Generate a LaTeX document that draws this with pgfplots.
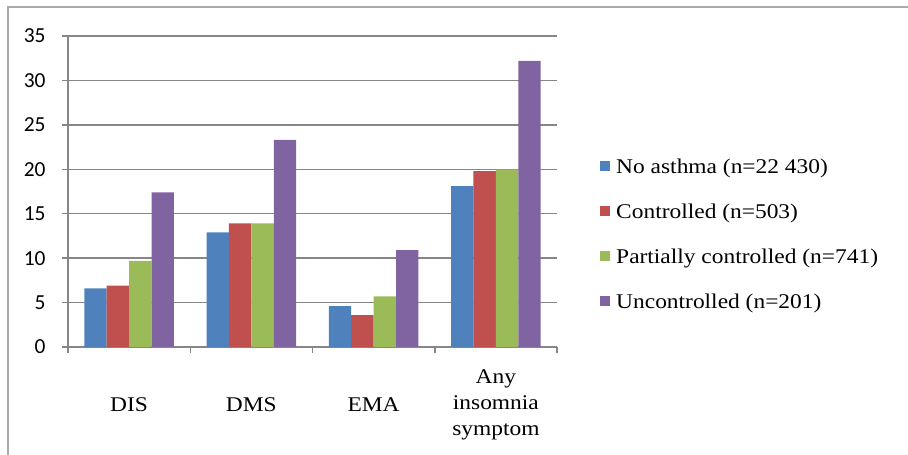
\documentclass[border=0pt]{standalone}
\usepackage{pgfplots}
\pgfplotsset{compat=1.18}
\usepackage{fontspec}
\setmainfont{Liberation Serif}[FakeStretch=1.12]
\newfontfamily\calib{Carlito}

\definecolor{gridgray}{RGB}{134,134,134}
\definecolor{framegray}{RGB}{170,170,170}
\definecolor{cblue}{RGB}{79,129,189}
\definecolor{cred}{RGB}{192,80,77}
\definecolor{cgreen}{RGB}{155,187,89}
\definecolor{cpurple}{RGB}{128,100,162}

\begin{document}
\begin{tikzpicture}
    \useasboundingbox (0,0) rectangle (908bp,455bp);
    % outer frame (left and top edges only are visible)
    \draw[framegray, line width=1.5bp] (8bp,0) -- (8bp,448bp) -- (908bp,448bp);

    \begin{axis}[
        at={(68bp,108bp)}, anchor=south west,
        width=489bp, height=311bp, scale only axis,
        xmin=-0.5, xmax=3.5,
        ymin=0, ymax=35,
        ybar=0pt, bar width=22.4bp,
        axis x line*=bottom, axis y line*=left,
        axis line style={gridgray, line width=1.5bp, -},
        tick align=outside, major tick length=6bp,
        tick style={gridgray, line width=1.5bp},
        ytick={0,5,...,35},
        ymajorgrids,
        grid style={gridgray, line width=1.5bp},
        /pgf/number format/assume math mode=true,
        yticklabel style={font=\calib\fontsize{21.5}{21}\selectfont, xshift=-13bp},
        xtick={-0.5,0.5,1.5,2.5,3.5},
        xticklabels={},
        extra x ticks={0,1,2,3},
        extra x tick labels={DIS,DMS,EMA,{Any\\insomnia\\symptom}},
        extra x tick style={major tick length=0pt, grid=none},
        xticklabel style={anchor=center, yshift=-58bp, align=center,
            font=\fontsize{21}{26}\selectfont},
        legend style={at={(1.088,0.363)}, anchor=west, draw=none, fill=none,
            inner sep=0pt, row sep=25bp, font=\fontsize{21}{21}\selectfont},
        legend cell align=left,
        legend image code/.code={%
            \fill[#1, draw=none] (0bp,-4bp) rectangle (10bp,6bp);
            \path (0bp,0bp) (14bp,0bp);},
    ]
        \addplot[fill=cblue, draw=none] coordinates {(0,6.6) (1,12.9) (2,4.6) (3,18.1)};
        \addplot[fill=cred, draw=none] coordinates {(0,6.9) (1,13.9) (2,3.6) (3,19.8)};
        \addplot[fill=cgreen, draw=none] coordinates {(0,9.7) (1,13.9) (2,5.7) (3,20.0)};
        \addplot[fill=cpurple, draw=none] coordinates {(0,17.4) (1,23.3) (2,10.9) (3,32.2)};
        \legend{No asthma (n=22 430), Controlled (n=503), Partially controlled (n=741), Uncontrolled (n=201)}
    \end{axis}
\end{tikzpicture}
\end{document}
